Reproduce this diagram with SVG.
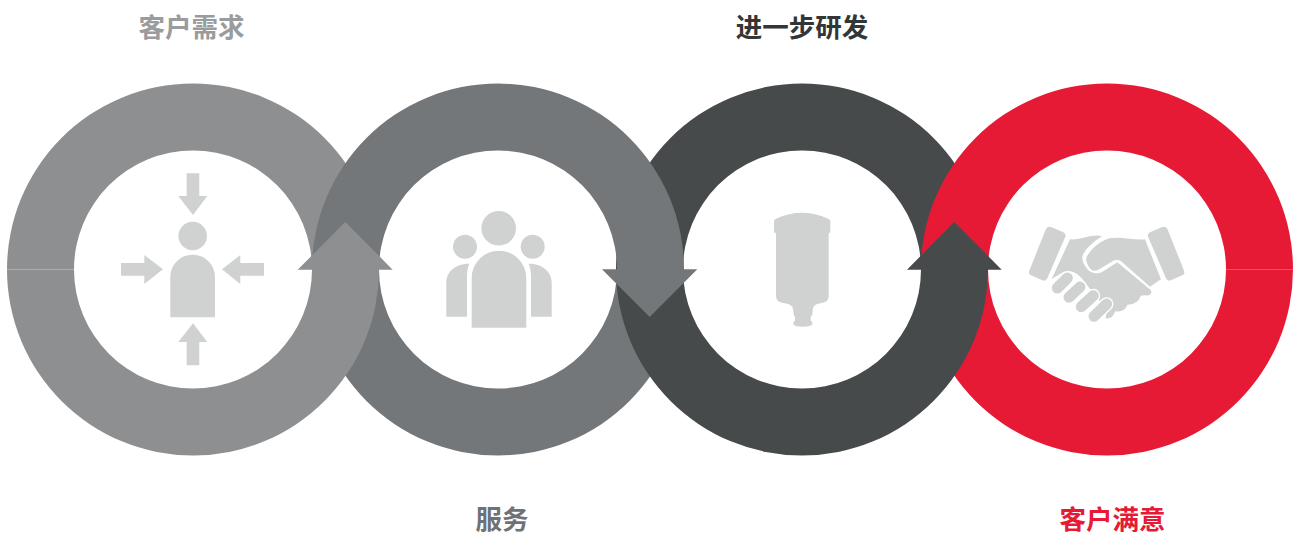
<svg xmlns="http://www.w3.org/2000/svg" width="1298" height="534" viewBox="0 0 1298 534">
<style>
.t{font-family:"Noto Sans CJK SC","Noto Sans",sans-serif;font-weight:700;font-size:26.5px;text-anchor:middle}
.icon{fill:#d0d2d1}
.c1{fill:#8e8f91}.c2{fill:#74777a}.c3{fill:#474a4b}.c4{fill:#e71a36}
.f{fill:none;stroke-linecap:round}
</style>
<defs>
<path id="top" d="M-186 0A186 186 0 0 1 186 0H119A119 119 0 0 0-119 0Z"/>
<path id="bot" d="M-186 0A186 186 0 0 0 186 0H119A119 119 0 0 1-119 0Z"/>
<g id="fingers">
<line x1="142" y1="234" x2="172" y2="204"/>
<line x1="177" y1="262" x2="210" y2="231"/>
<line x1="214" y1="290" x2="250" y2="257"/>
<line x1="252" y1="319" x2="290" y2="282"/>
</g>
</defs>
<rect width="1298" height="534" fill="#fff"/>
<g id="connectors">
<use href="#top" class="c1" transform="translate(193 269.5)"/>
<use href="#top" class="c3" transform="translate(802 269.5)"/>
<use href="#top" class="c2" transform="translate(498 269.5)"/>
<use href="#top" class="c4" transform="translate(1107 269.5)"/>
<use href="#bot" class="c2" transform="translate(498 269.5)"/>
<use href="#bot" class="c4" transform="translate(1107 269.5)"/>
<use href="#bot" class="c1" transform="translate(193 269.5)"/>
<use href="#bot" class="c3" transform="translate(802 269.5)"/>
<polygon class="c1" points="297.7,269.7 345.3,222 392.7,269.7 379,269.7 379,271 312,271 312,269.7"/>
<polygon class="c2" points="602,269.3 617,269.3 617,268 684,268 684,269.3 697.3,269.3 649.7,317"/>
<polygon class="c3" points="907,269.7 954.3,222 1001.7,269.7 988,269.7 988,271 921,271 921,269.7"/>
</g>
<g id="node-demand">
<text class="t" x="191.5" y="37" fill="#9a9b9d">客户需求</text>
<g class="icon">
<circle cx="192.7" cy="236" r="14.3"/>
<path d="M170.3 317.3V277A22.3 22.3 0 0 1 215 277V317.3Z"/>
<polygon points="186.7,173.3 199.3,173.3 199.3,196 207.3,196 193,215 178.3,196 186.7,196"/>
<polygon points="121,263 144.3,263 144.3,255 163,269.3 144.3,284 144.3,275.7 121,275.7"/>
<polygon points="264,263 240.3,263 240.3,255 222,269.3 240.3,284 240.3,275.7 264,275.7"/>
<polygon points="186.7,365.3 199.3,365.3 199.3,342 207.3,342 193,323.3 178.3,342 186.7,342"/>
</g>
</g>
<g id="node-service">
<text class="t" x="502" y="529" fill="#6f7275">服务</text>
<g class="icon">
<circle cx="498.7" cy="228.3" r="17.3"/>
<circle cx="465" cy="246.7" r="12"/>
<circle cx="532.7" cy="246.7" r="12"/>
<path d="M471.7 327.7V278A27.3 27.3 0 0 1 526.3 278V327.7Z"/>
<path d="M446.3 316.7V283C446.3 271 456 263.7 469.3 263.7C467.5 268 467 272 467 278V316.7Z"/>
<path d="M551.7 316.7V283C551.7 271 542 263.7 528.7 263.7C530.5 268 531 272 531 278V316.7Z"/>
</g>
</g>
<g id="node-research">
<text class="t" x="802" y="37" fill="#333536">进一步研发</text>
<path class="icon" d="M774 232.7V221Q774 219.5 776 218.7Q802 207 828 218.7Q830.3 219.5 830.3 221V232.7H828.7V296Q828.7 301 824 302.5C817 304 812.7 304 812.7 311Q812.7 315 810.7 317V320.5Q812.5 322 812.5 323.5Q812 326.7 802.5 326.7Q793.5 326.7 793.3 323.5Q793.3 322 795 320.5V317Q793.3 315 793.3 311C793.3 304 788 304 781 302.5Q776 301 776 296V232.7Z"/>
</g>
<g id="node-satisfied">
<text class="t" x="1112.5" y="529" fill="#e71a36">客户满意</text>
<g transform="translate(1010 210) scale(.33333)">
<path class="icon" d="M108 56Q115 47 125 52L160 67Q169 72 166 80L112 205Q107 215 97 211L63 196Q54 191 58 182Z"/>
<path class="icon" d="M472 56Q465 47 455 52L420 67Q411 72 414 80L468 205Q473 215 483 211L517 196Q526 191 522 182Z"/>
<path class="icon" d="M180 88C210 92 245 70 276 79C250 95 232 112 222 128C212 143 218 157 228 172C238 190 260 194 277 185L322 157L422 240C428 250 420 258 405 256L392 257C388 272 375 283 352 284C348 298 335 306 315 304C312 318 300 328 287 325L290 300L215 205C200 188 180 178 160 186L125 207Z"/>
<path class="icon" d="M233 135C250 110 275 92 298 85C335 78 375 92 405 88L453 208L420 230L335 155C327 148 315 148 305 155L268 178C255 186 245 182 238 173L231 160C227 150 228 143 233 135Z"/>
<use href="#fingers" class="f" stroke="#fff" stroke-width="41"/>
<use href="#fingers" class="f" stroke="#d0d2d1" stroke-width="33"/>
</g>
</g>
</svg>
